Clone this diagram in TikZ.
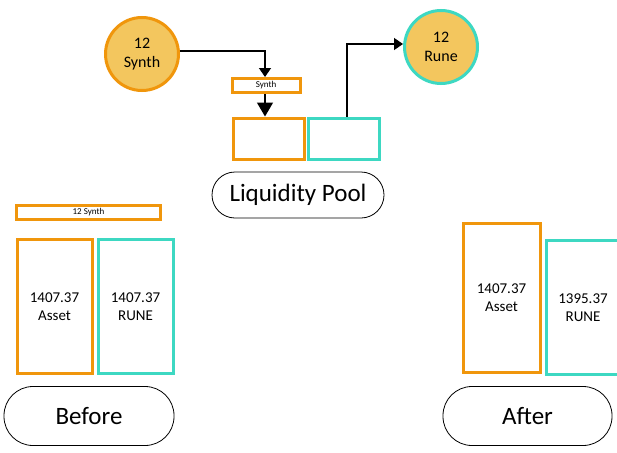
\documentclass[tikz,border=0pt]{standalone}
\usepackage{fontspec}
\setmainfont{Carlito}
\usetikzlibrary{arrows.meta}
\definecolor{org}{HTML}{F0960C}
\definecolor{teal2}{HTML}{3DD8C2}
\definecolor{gold}{HTML}{F3C65E}
\begin{document}
\begin{tikzpicture}[x=1pt,y=-1pt,
  obox/.style={draw=org,line width=3pt,fill=white,inner sep=0pt},
  tbox/.style={draw=teal2,line width=3pt,fill=white,inner sep=0pt},
  coin/.style={circle,fill=gold,line width=3pt,inner sep=0pt,minimum size=73pt,align=center,font=\fontsize{16}{19}\selectfont},
  pill/.style={draw=black,line width=0.8pt,rounded corners=23pt,inner sep=0pt,font=\fontsize{25}{28}\selectfont},
  conn/.style={draw=black,line width=1.4pt,-{Triangle[length=9pt,width=12pt]}},
  val/.style={font=\fontsize{15}{18}\selectfont,align=center}]
\useasboundingbox (0,0) rectangle (617,452);
% coins
\node[coin,draw=org] (syn) at (142,54) {12\\Synth};
\node[coin,draw=teal2] (rune) at (441,47) {12\\Rune};
% pool
\node[obox,minimum width=68pt,minimum height=14pt,font=\fontsize{9}{10}\selectfont] (sbox) at (266,85.5) {Synth};
\node[obox,minimum width=71pt,minimum height=41pt] (pa) at (268.5,138.5) {};
\node[tbox,minimum width=71pt,minimum height=41pt] (pr) at (343.5,138.5) {};
\node[pill,minimum width=172pt,minimum height=46pt] (lp) at (298,195) {Liquidity Pool};
\coordinate (c1) at (265,51);
\draw[conn] (syn.east |- c1) -- (c1) -- (sbox.north -| c1);
\draw[conn,-{Triangle[length=14pt,width=16pt]}] (sbox.south -| c1) -- (pa.north -| c1);
\coordinate (c2) at (347,44);
\draw[conn] (pr.north -| c2) -- (c2) -- (rune.west |- c2);
% before
\node[obox,minimum width=144pt,minimum height=14pt,font=\fontsize{9}{10}\selectfont] (bs) at (88.5,212) {12 Synth};
\node[obox,minimum width=75pt,minimum height=134pt,val] (ba) at (54.5,306.5) {1407.37\\Asset};
\node[tbox,minimum width=75pt,minimum height=134pt,val] (br) at (135.5,306.5) {1407.37\\RUNE};
\node[pill,minimum width=170pt,minimum height=59pt,rounded corners=29pt] (bef) at (89,416) {Before};
% after
\node[obox,minimum width=77pt,minimum height=149pt,val] (aa) at (501.5,298) {1407.37\\Asset};
\node[tbox,minimum width=76pt,minimum height=134pt,anchor=north west] (ar) at (545,239) {};
\node[val] (arl) at (583,308) {1395.37\\RUNE};
\node[pill,minimum width=169pt,minimum height=59pt,rounded corners=29pt] (aft) at (527.5,416) {After};
\end{tikzpicture}
\end{document}
